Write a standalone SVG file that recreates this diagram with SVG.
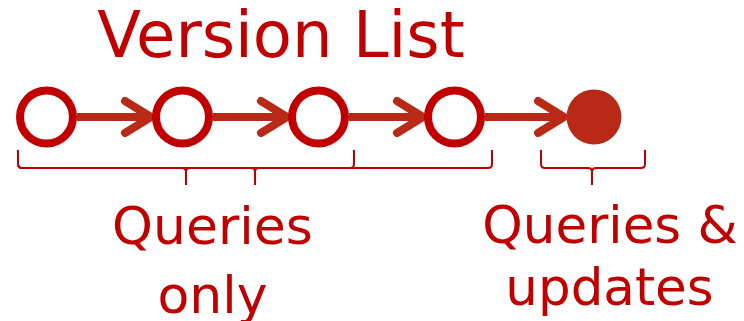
<svg xmlns="http://www.w3.org/2000/svg" width="744" height="321" viewBox="0 0 744 321">
<style>
.t{font-family:"DejaVu Sans","Verdana",sans-serif;fill:#C00000;text-anchor:middle}
.v{fill:#fff;stroke:#C00000;stroke-width:8}
.cur{fill:#B92A16}
.e{fill:none;stroke:#B92A16;stroke-width:8;stroke-linecap:round;stroke-linejoin:round}
.l{fill:none;stroke:#B92A16;stroke-width:8}
.b{fill:none;stroke:#C00000;stroke-width:2}
</style>
<rect width="744" height="321" fill="#fff"/>
<text class="t" x="281" y="57" font-size="64">Version List</text>
<g id="connectors">
<path class="l" d="M77,117 H150"/>
<path class="e" d="M125,101 L151,117 L125,133"/>
<path class="l" d="M213,117 H286"/>
<path class="e" d="M261,101 L287,117 L261,133"/>
<path class="l" d="M349,117 H422"/>
<path class="e" d="M397,101 L423,117 L397,133"/>
<path class="l" d="M485,117 H564"/>
<path class="e" d="M538,101 L564,117 L538,133"/>
</g>
<g id="v1"><circle class="v" cx="46.5" cy="117" r="26.5"/></g>
<g id="v2"><circle class="v" cx="182.5" cy="117" r="26.5"/></g>
<g id="v3"><circle class="v" cx="318.5" cy="117" r="26.5"/></g>
<g id="v4"><circle class="v" cx="454.5" cy="117" r="26.5"/></g>
<g id="v5"><circle class="cur" cx="594" cy="117" r="27.5"/></g>
<g id="brace-a"><path class="b" d="M18,150 V164 Q18,168 22,168 H182 Q186,168 186,172 V185 M186,172 Q186,168 190,168 H350 Q354,168 354,164 V150"/></g>
<g id="brace-b"><path class="b" d="M18,150 V164 Q18,168 22,168 H251 Q255,168 255,172 V185 M255,172 Q255,168 259,168 H488 Q492,168 492,164 V150"/></g>
<g id="brace-c"><path class="b" d="M541,150 V164 Q541,168 545,168 H588 Q592,168 592,172 V185 M592,172 Q592,168 596,168 H641 Q645,168 645,164 V150"/></g>
<g id="label-queries-only">
<text class="t" x="212.5" y="244" font-size="52">Queries</text>
<text class="t" x="212.5" y="313" font-size="52">only</text>
</g>
<g id="label-queries-updates">
<text class="t" x="610" y="243" font-size="51.5">Queries &amp;</text>
<text class="t" x="609.5" y="305" font-size="51.5">updates</text>
</g>
</svg>
